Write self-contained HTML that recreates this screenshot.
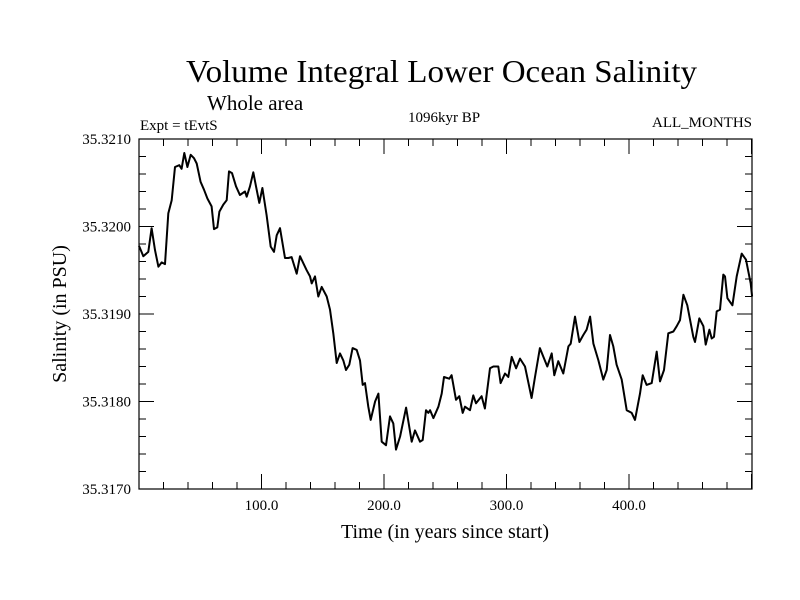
<!DOCTYPE html>
<html><head><meta charset="utf-8"><style>
html,body{margin:0;padding:0;background:#fff;}
svg{display:block;font-family:"Liberation Serif",serif;}
</style></head><body>
<svg id="chart" width="800" height="600" xmlns="http://www.w3.org/2000/svg">
<rect width="800" height="600" fill="#fff"/>
<text x="186" y="82" font-size="32" textLength="511" lengthAdjust="spacingAndGlyphs">Volume Integral Lower Ocean Salinity</text>
<text x="207" y="110" font-size="21">Whole area</text>
<text x="140" y="130" font-size="15">Expt = tEvtS</text>
<text x="444" y="122" font-size="15" text-anchor="middle">1096kyr BP</text>
<text x="752" y="127" font-size="15" text-anchor="end">ALL_MONTHS</text>
<text x="445" y="538" font-size="20" text-anchor="middle">Time (in years since start)</text>
<text transform="translate(66,314) rotate(-90)" font-size="20" text-anchor="middle">Salinity (in PSU)</text>
<g id="axes"></g>
<rect x="139" y="139" width="613" height="350" fill="none" stroke="#000" stroke-width="1.2"/>
<path id="series" fill="none" stroke="#000" stroke-width="2" stroke-linejoin="round"/>
</svg>
<script>
const years=[0,3.5,7.6,10.3,13.1,15.8,18.5,21.2,23.9,26.7,29.4,32.9,34.8,37.0,39.5,42.2,44.9,47.1,50.3,53.1,55.8,59.3,61.2,63.9,65.6,68.8,71.6,73.5,75.9,79.2,82.4,86.5,87.9,90.6,93.3,95.5,98.2,100.7,104.2,107.5,110.2,112.4,115.1,119.2,121.9,124.6,128.7,131.4,134.1,136.9,139.6,141.0,143.7,146.4,149.1,153.2,155.9,158.6,161.4,164.1,166.8,169.0,171.7,174.4,177.7,180.4,182.6,184.5,187.2,189.1,192.7,195.4,198.1,201.6,204.9,207.6,209.8,213.1,218.0,222.6,225.3,229.4,231.6,234.3,236.2,237.6,240.3,244.4,247.1,249.0,253.3,255.2,258.8,261.5,264.2,266.1,270.2,272.9,275.1,279.7,282.4,286.5,289.3,293.3,295.2,298.8,301.5,304.2,307.8,311.0,315.1,320.5,323.3,327.3,330.1,333.3,336.9,339.0,342.3,346.4,350.5,352.4,355.9,359.5,362.7,365.4,368.2,370.9,375.0,379.0,381.8,384.5,387.2,389.9,394.0,398.1,402.2,404.9,409.0,411.2,414.4,418.5,422.6,425.3,428.6,432.1,436.2,438.9,441.6,444.4,447.6,452.5,453.9,457.4,460.7,462.6,465.6,467.5,469.4,471.6,474.3,477.0,478.4,480.3,484.4,487.9,492.0,495.5,499.3,500.5];
const salinity=[35.31978,35.31966,35.31971,35.31998,35.31973,35.31954,35.31959,35.31957,35.32015,35.32030,35.32068,35.32070,35.32066,35.32084,35.32068,35.32082,35.32078,35.32072,35.32051,35.32042,35.32032,35.32023,35.31997,35.31999,35.32017,35.32025,35.32030,35.32063,35.32061,35.32046,35.32036,35.32040,35.32034,35.32046,35.32062,35.32046,35.32027,35.32044,35.32013,35.31977,35.31971,35.31990,35.31998,35.31964,35.31964,35.31965,35.31946,35.31966,35.31958,35.31950,35.31943,35.31935,35.31943,35.31920,35.31931,35.31920,35.31905,35.31878,35.31844,35.31855,35.31847,35.31836,35.31842,35.31861,35.31859,35.31847,35.31819,35.31821,35.31794,35.31779,35.31800,35.31809,35.31754,35.31750,35.31783,35.31775,35.31745,35.31760,35.31793,35.31754,35.31767,35.31754,35.31756,35.31790,35.31787,35.31790,35.31781,35.31794,35.31809,35.31828,35.31826,35.31830,35.31802,35.31806,35.31787,35.31794,35.31790,35.31807,35.31798,35.31806,35.31792,35.31838,35.31840,35.31840,35.31821,35.31832,35.31828,35.31851,35.31838,35.31849,35.31840,35.31804,35.31828,35.31861,35.31851,35.31840,35.31855,35.31830,35.31846,35.31832,35.31863,35.31866,35.31897,35.31868,35.31876,35.31882,35.31897,35.31866,35.31847,35.31825,35.31836,35.31876,35.31863,35.31842,35.31825,35.31790,35.31787,35.31779,35.31809,35.31830,35.31819,35.31821,35.31857,35.31823,35.31836,35.31878,35.31880,35.31886,35.31893,35.31922,35.31910,35.31874,35.31868,35.31895,35.31886,35.31865,35.31882,35.31872,35.31874,35.31903,35.31905,35.31945,35.31943,35.31918,35.31910,35.31943,35.31969,35.31962,35.31935,35.31920];
const xTickValues=[100,200,300,400];
const xTickLabels=["100.0","200.0","300.0","400.0"];
const yTickValues=[35.317,35.318,35.319,35.320,35.321];
const yTickLabels=["35.3170","35.3180","35.3190","35.3200","35.3210"];

const X0=139,X1=752,Y0=489,Y1=139,XMIN=0,XMAX=500.4,YMIN=35.317,YMAX=35.321;
function sx(v){return X0+(v-XMIN)/(XMAX-XMIN)*(X1-X0);}
function sy(v){return Y0-(v-YMIN)/(YMAX-YMIN)*(Y0-Y1);}
const NS="http://www.w3.org/2000/svg";
const axes=document.getElementById('axes');
function line(x1,y1,x2,y2,name){const l=document.createElementNS(NS,'line');
l.setAttribute('x1',x1);l.setAttribute('y1',y1);l.setAttribute('x2',x2);l.setAttribute('y2',y2);
l.setAttribute('stroke','#000');l.setAttribute('stroke-width','1');


axes.appendChild(l);}
function text(x,y,s,anchor,name){const t=document.createElementNS(NS,'text');
t.setAttribute('x',x);t.setAttribute('y',y);t.setAttribute('font-size','15');t.setAttribute('text-anchor',anchor);t.textContent=s;


axes.appendChild(t);}
// minor x ticks every 20
for(let v=20;v<XMAX;v+=20){const x=sx(v);const major=v%100===0;const L=major?15:7;
line(x,Y0,x,Y0-L,'x-tick');line(x,Y1,x,Y1+L,'x-tick-top');}
for(let v=0;v<=20;v++){const val=YMIN+v*0.0002;const y=sy(val);const major=v%5===0;const L=major?15:7;
line(X0,y,X0+L,y,'y-tick');line(X1,y,X1-L,y,'y-tick-right');}
xTickValues.forEach((v,i)=>text(sx(v),510,xTickLabels[i],'middle','x-tick-label'));
yTickValues.forEach((v,i)=>text(131,sy(v)+5,yTickLabels[i],'end','y-tick-label'));
let d='';years.forEach((yr,i)=>{d+=(i?'L':'M')+sx(yr).toFixed(1)+','+sy(salinity[i]).toFixed(1);});
document.getElementById('series').setAttribute('d',d);
</script>
</body></html>
